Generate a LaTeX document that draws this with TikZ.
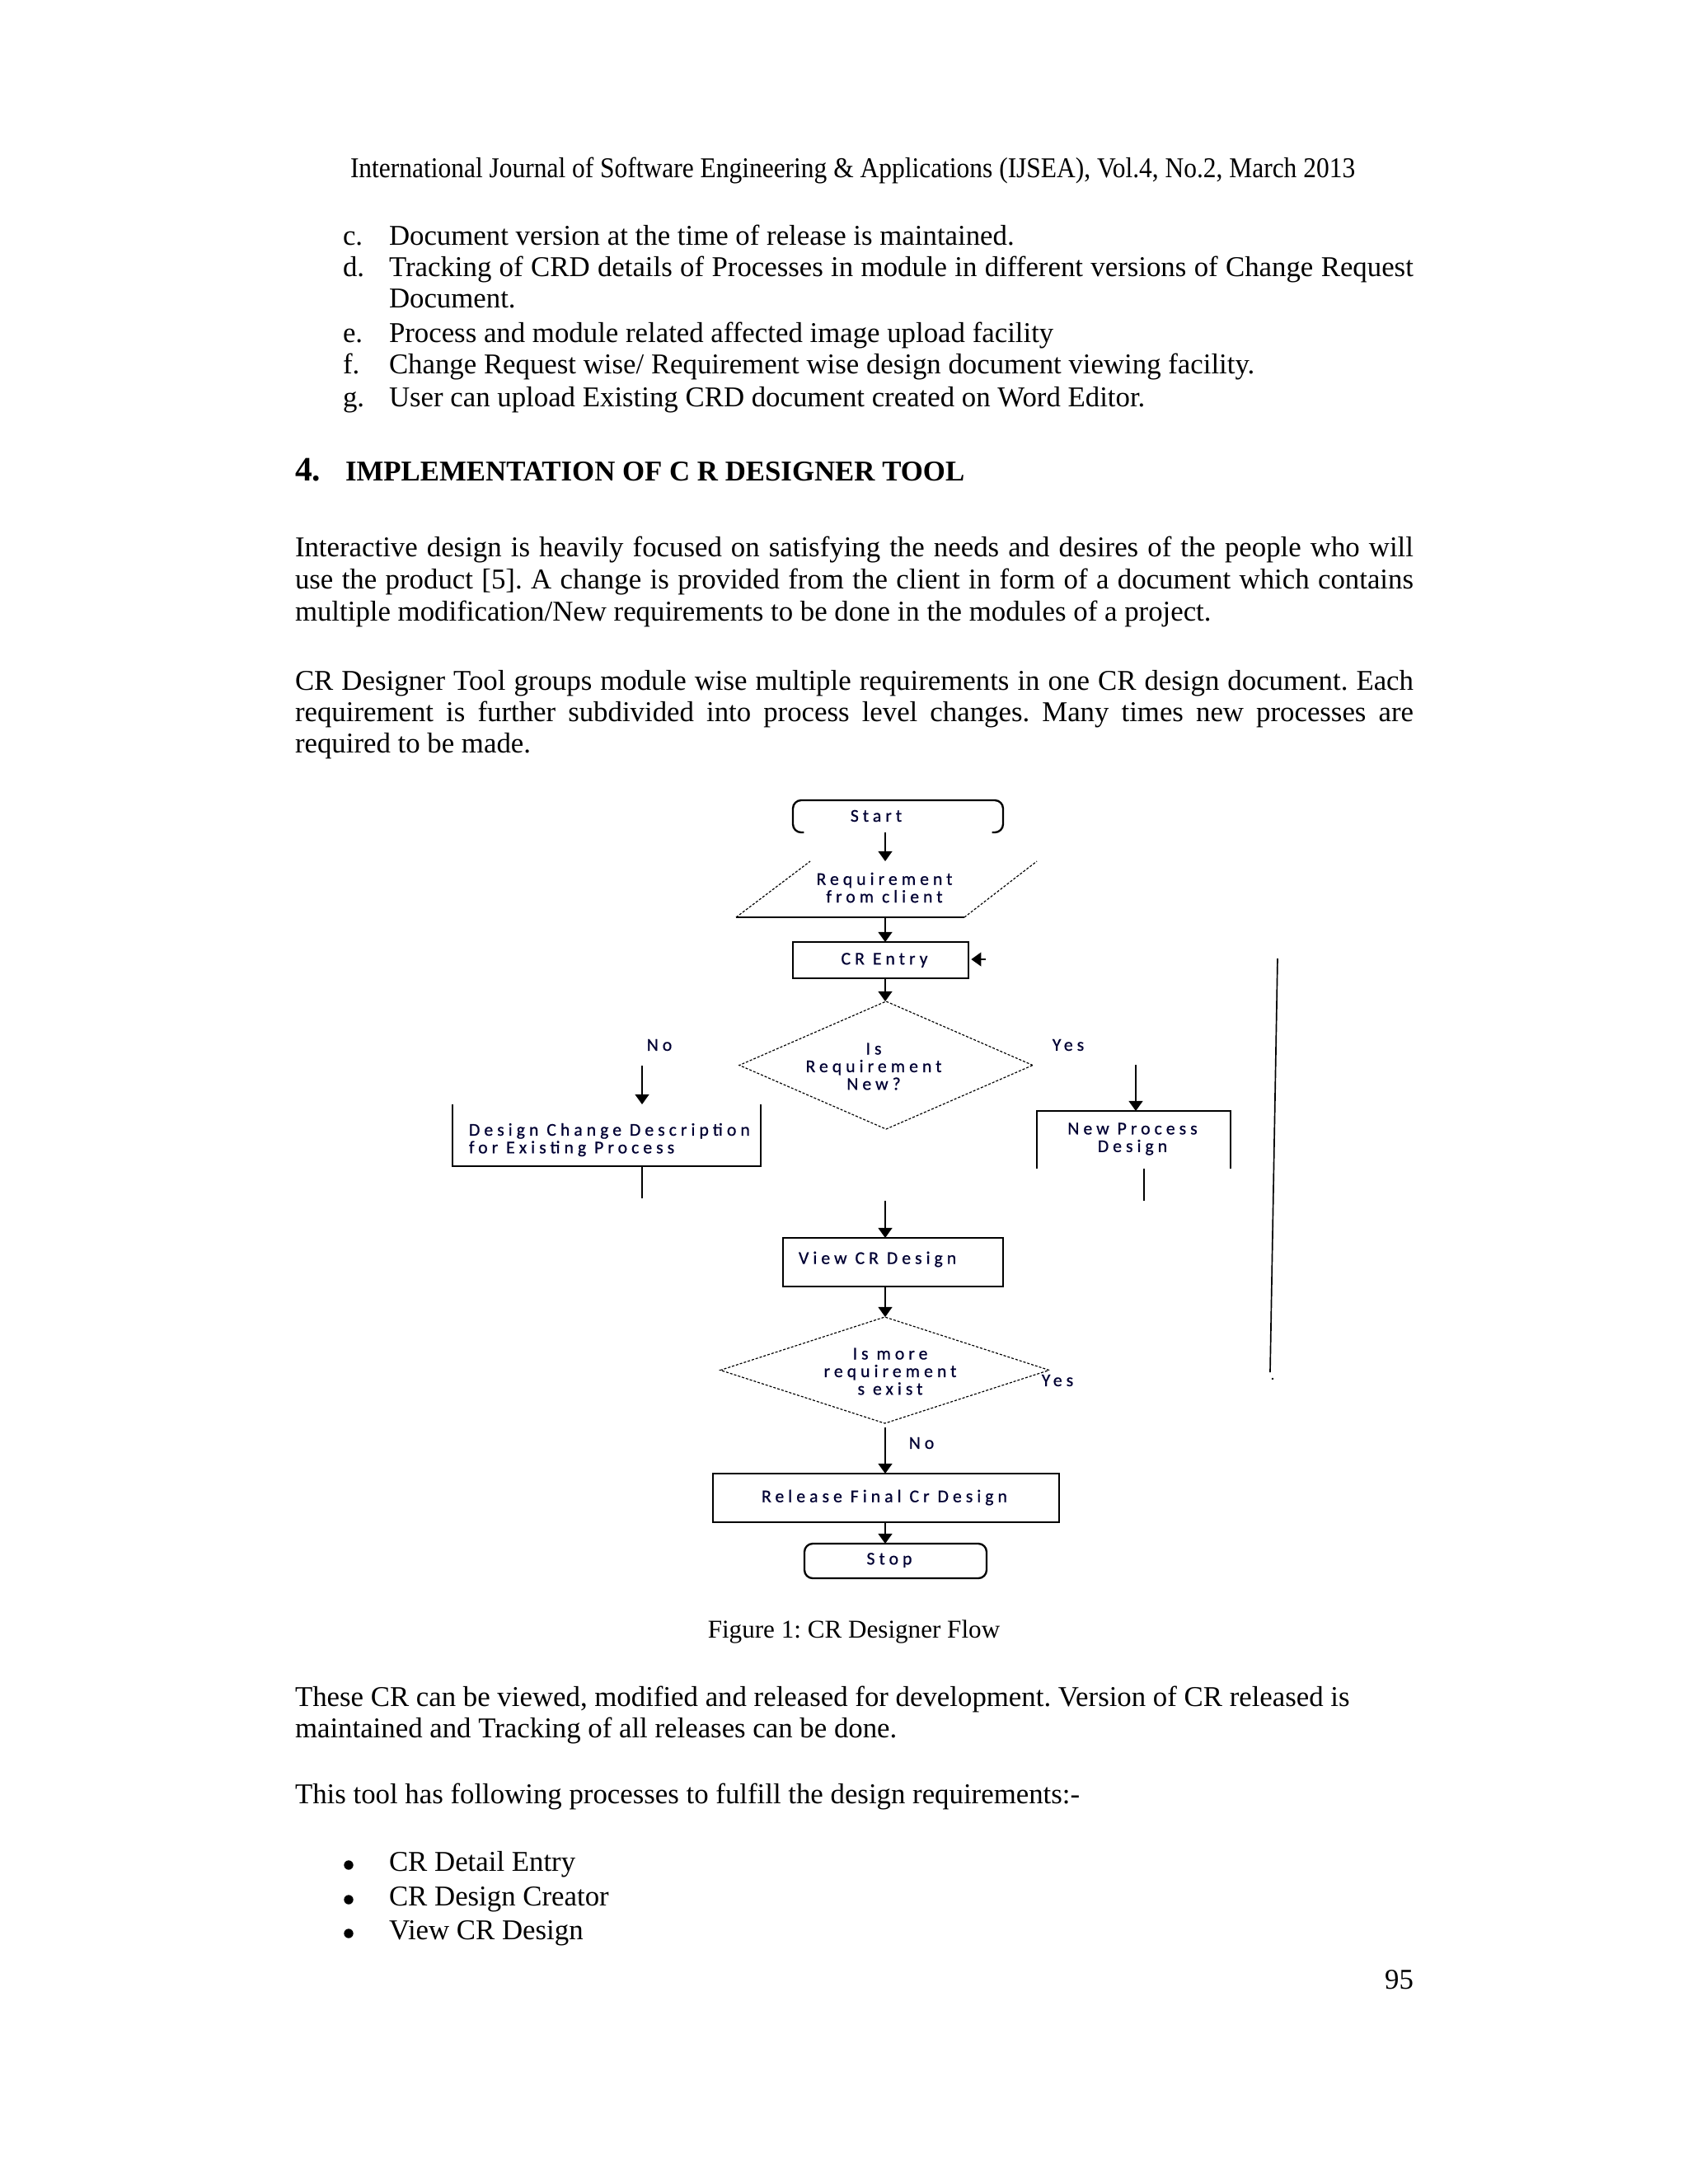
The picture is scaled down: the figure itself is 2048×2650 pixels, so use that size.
\documentclass[tikz,border=0pt]{standalone}
\usepackage{fontspec}
\setmainfont{Liberation Serif}
\newfontfamily\diag[LetterSpace=23,FakeBold=0.7]{Carlito}
\usetikzlibrary{arrows.meta,shapes.geometric}
\newdimen\pxu \pxu=0.29883pt
\frenchspacing
\begin{document}
\begin{tikzpicture}[x=0.29883pt,y=-0.29883pt,
  body/.style={anchor=base west,inner sep=0,outer sep=0,font=\fontsize{10.4}{11.5}\selectfont\frenchspacing},
  bodyc/.style={body,anchor=base},
  dtext/.style={inner sep=0,outer sep=0,align=center,text=black!80!blue,font=\diag\fontsize{6.5}{6.4}\selectfont},
  sz/.style 2 args={minimum width=#1*\pxu,minimum height=#2*\pxu,inner sep=0,outer sep=0},
  boxline/.style={draw,line width=0.7pt},
  dsh/.style={line width=0.35pt,dash pattern=on 0.9pt off 0.6pt},
  arr/.style={line width=0.6pt,-{Triangle[width=5pt,length=3.6pt]}},
  conn/.style={line width=0.6pt}]
\useasboundingbox (0,0) rectangle (2048,2650);
\fill[white] (0,0) rectangle (2048,2650);

% ---------- page text ----------
\node[body] (hdr) at (425,215) {\scalebox{0.904}[1]{International Journal of Software Engineering \& Applications (IJSEA), Vol.4, No.2, March 2013}};
\node[body] (lc) at (416,297) {c.};
\node[body] (tc) at (472,297) {Document version at the time of release is maintained.};
\node[body] (ld) at (416,335) {d.};
\node[body] (td) at (472,335) {\makebox[371.4pt][s]{Tracking of CRD details of Processes in module in different versions of Change Request}};
\node[body] (td2) at (472,373) {Document.};
\node[body] (le) at (416,415) {e.};
\node[body] (te) at (472,415) {Process and module related affected image upload facility};
\node[body] (lf) at (416,453) {f.};
\node[body] (tf) at (472,453) {Change Request wise/ Requirement wise design document viewing facility.};
\node[body] (lg) at (416,493) {g.};
\node[body] (tg) at (472,493) {User can upload Existing CRD document created on Word Editor.};

\node[body,font=\fontsize{12.4}{13}\selectfont\bfseries] (hn) at (358,583) {4.};
\node[body,font=\fontsize{10.4}{11.5}\selectfont\bfseries] (ht) at (419,583) {IMPLEMENTATION OF C R DESIGNER TOOL};

\node[body] (p1a) at (358,675) {\makebox[405.5pt][s]{Interactive design is heavily focused on satisfying the needs and desires of the people who will}};
\node[body] (p1b) at (358,714) {\makebox[405.5pt][s]{use the product [5]. A change is provided from the client in form of a document which contains}};
\node[body] (p1c) at (358,753) {multiple modification/New requirements to be done in the modules of a project.};

\node[body] (p2a) at (358,837) {\makebox[405.5pt][s]{CR Designer Tool groups module wise multiple requirements in one CR design document. Each}};
\node[body] (p2b) at (358,875) {\makebox[405.5pt][s]{requirement is further subdivided into process level changes. Many times new processes are}};
\node[body] (p2c) at (358,913) {required to be made.};

\node[bodyc,font=\fontsize{9.3}{11}\selectfont] (cap) at (1036,1987) {Figure 1: CR Designer Flow};

\node[body] (p3a) at (358,2070) {These CR can be viewed, modified and released for development. Version of CR released is};
\node[body] (p3b) at (358,2108) {maintained and Tracking of all releases can be done.};
\node[body] (p4) at (358,2188) {This tool has following processes to fulfill the design requirements:-};

\fill (423,2263) circle (1.7pt);
\node[body] (bt1) at (472,2270) {CR Detail Entry};
\fill (423,2305) circle (1.7pt);
\node[body] (bt2) at (472,2312) {CR Design Creator};
\fill (423,2346) circle (1.7pt);
\node[body] (bt3) at (472,2353) {View CR Design};
\node[body,anchor=base east] (pg) at (1715,2413) {95};

% ---------- flowchart ----------
\coordinate (ax) at (1074,0);

% Start (no bottom edge)
\node[sz={255}{39}] (start) at (1089.5,990.5) {};
\node[dtext] (startt) at (1063,990) {Start};
\draw[line width=0.7pt,rounded corners=3pt]
  ([xshift=4pt]start.south west) -- (start.south west) -- (start.north west)
  -- (start.north east) -- (start.south east) -- ([xshift=-4pt]start.south east);

% Requirement from client (parallelogram, top edge missing)
\node[sz={190}{68}] (req) at (1075,1079) {};
\node[dtext] (reqt) at (1073,1077) {Requirement\\from client};
\draw[dsh] (893,1113) -- (983,1045);
\draw[line width=0.7pt] (893,1113) -- (1170,1113);
\draw[dsh] (1170,1113) -- (1258,1045);

% CR Entry
\node[sz={213}{44},boxline] (entry) at (1068.5,1165) {};
\node[dtext] (entryt) at (1073,1165) {CR Entry};

% Decision 1
\node[diamond,sz={356}{155},draw,dsh] (d1) at (1075,1292.5) {};
\node[dtext] (d1t) at (1060,1294) {Is\\Requirement\\New?};
\node[dtext] (no1) at (800,1268) {No};
\node[dtext] (yes1) at (1296,1268) {Yes};

% Design change description (no top edge)
\node[sz={374}{75}] (dc) at (736,1377.5) {};
\node[dtext,anchor=west,align=left] (dct) at (569,1383) {Design Change Description\\for Existing Process};
\draw[line width=0.7pt] (dc.north west) -- (dc.south west) -- (dc.south east) -- (dc.north east);

% New process design (no bottom edge)
\node[sz={235}{70}] (np) at (1375.5,1383) {};
\node[dtext] (npt) at (1374,1382) {New Process\\Design};
\draw[line width=0.7pt] (np.south west) -- (np.north west) -- (np.north east) -- (np.south east);

% View CR Design
\node[sz={267}{59},boxline] (view) at (1083.5,1531.5) {};
\node[dtext,anchor=west] (viewt) at (969,1528) {View CR Design};

% Decision 2
\node[diamond,sz={399}{129},draw,dsh] (d2) at (1073.5,1662.5) {};
\node[dtext] (d2t) at (1080,1664) {Is more\\requirement\\s exist};
\node[dtext] (yes2) at (1283,1675) {Yes};
\node[dtext] (no2) at (1118,1751) {No};

% Release
\node[sz={420}{59},boxline] (rel) at (1075,1817.5) {};
\node[dtext] (relt) at (1073,1817) {Release Final Cr Design};

% Stop
\node[sz={221}{42},boxline,rounded corners=3pt] (stop) at (1086.5,1894) {};
\node[dtext] (stopt) at (1079,1893) {Stop};

% connectors
\draw[arr] (start.south -| ax) -- (req.north -| ax);
\draw[arr] (req.south -| ax) -- (entry.north -| ax);
\draw[arr] (entry.south -| ax) -- (d1.north -| ax);

\coordinate (noA) at (779,1293);
\draw[arr] (noA) -- (dc.north -| noA);
\coordinate (dcE) at (779,1454);
\draw[conn] (dc.south -| dcE) -- (dcE);

\coordinate (yesA) at (1378,1292);
\draw[arr] (yesA) -- (np.north -| yesA);
\coordinate (npE) at (1388,1457);
\draw[conn] (np.south -| npE) -- (npE);

\coordinate (vA) at (1074,1457);
\draw[arr] (vA) -- (view.north -| vA);
\draw[arr] (view.south -| ax) -- (d2.north -| ax);
\coordinate (d2out) at (1074,1732);
\draw[arr] (d2out) -- (rel.north -| d2out);
\draw[arr] (rel.south -| ax) -- (stop.north -| ax);

% feedback line (broken)
\coordinate (fbTop) at (1550,1163);
\coordinate (fbBot) at (1541,1665);
\draw[line width=0.5pt] (fbTop) -- (fbBot);
\coordinate (fbDot) at (1544,1673);
\fill (fbDot) circle (0.4pt);
\coordinate (fbA) at (1196,1164);
\draw[arr,shorten >=1pt] (fbA) -- (entry.east |- fbA);
\end{tikzpicture}
\end{document}
